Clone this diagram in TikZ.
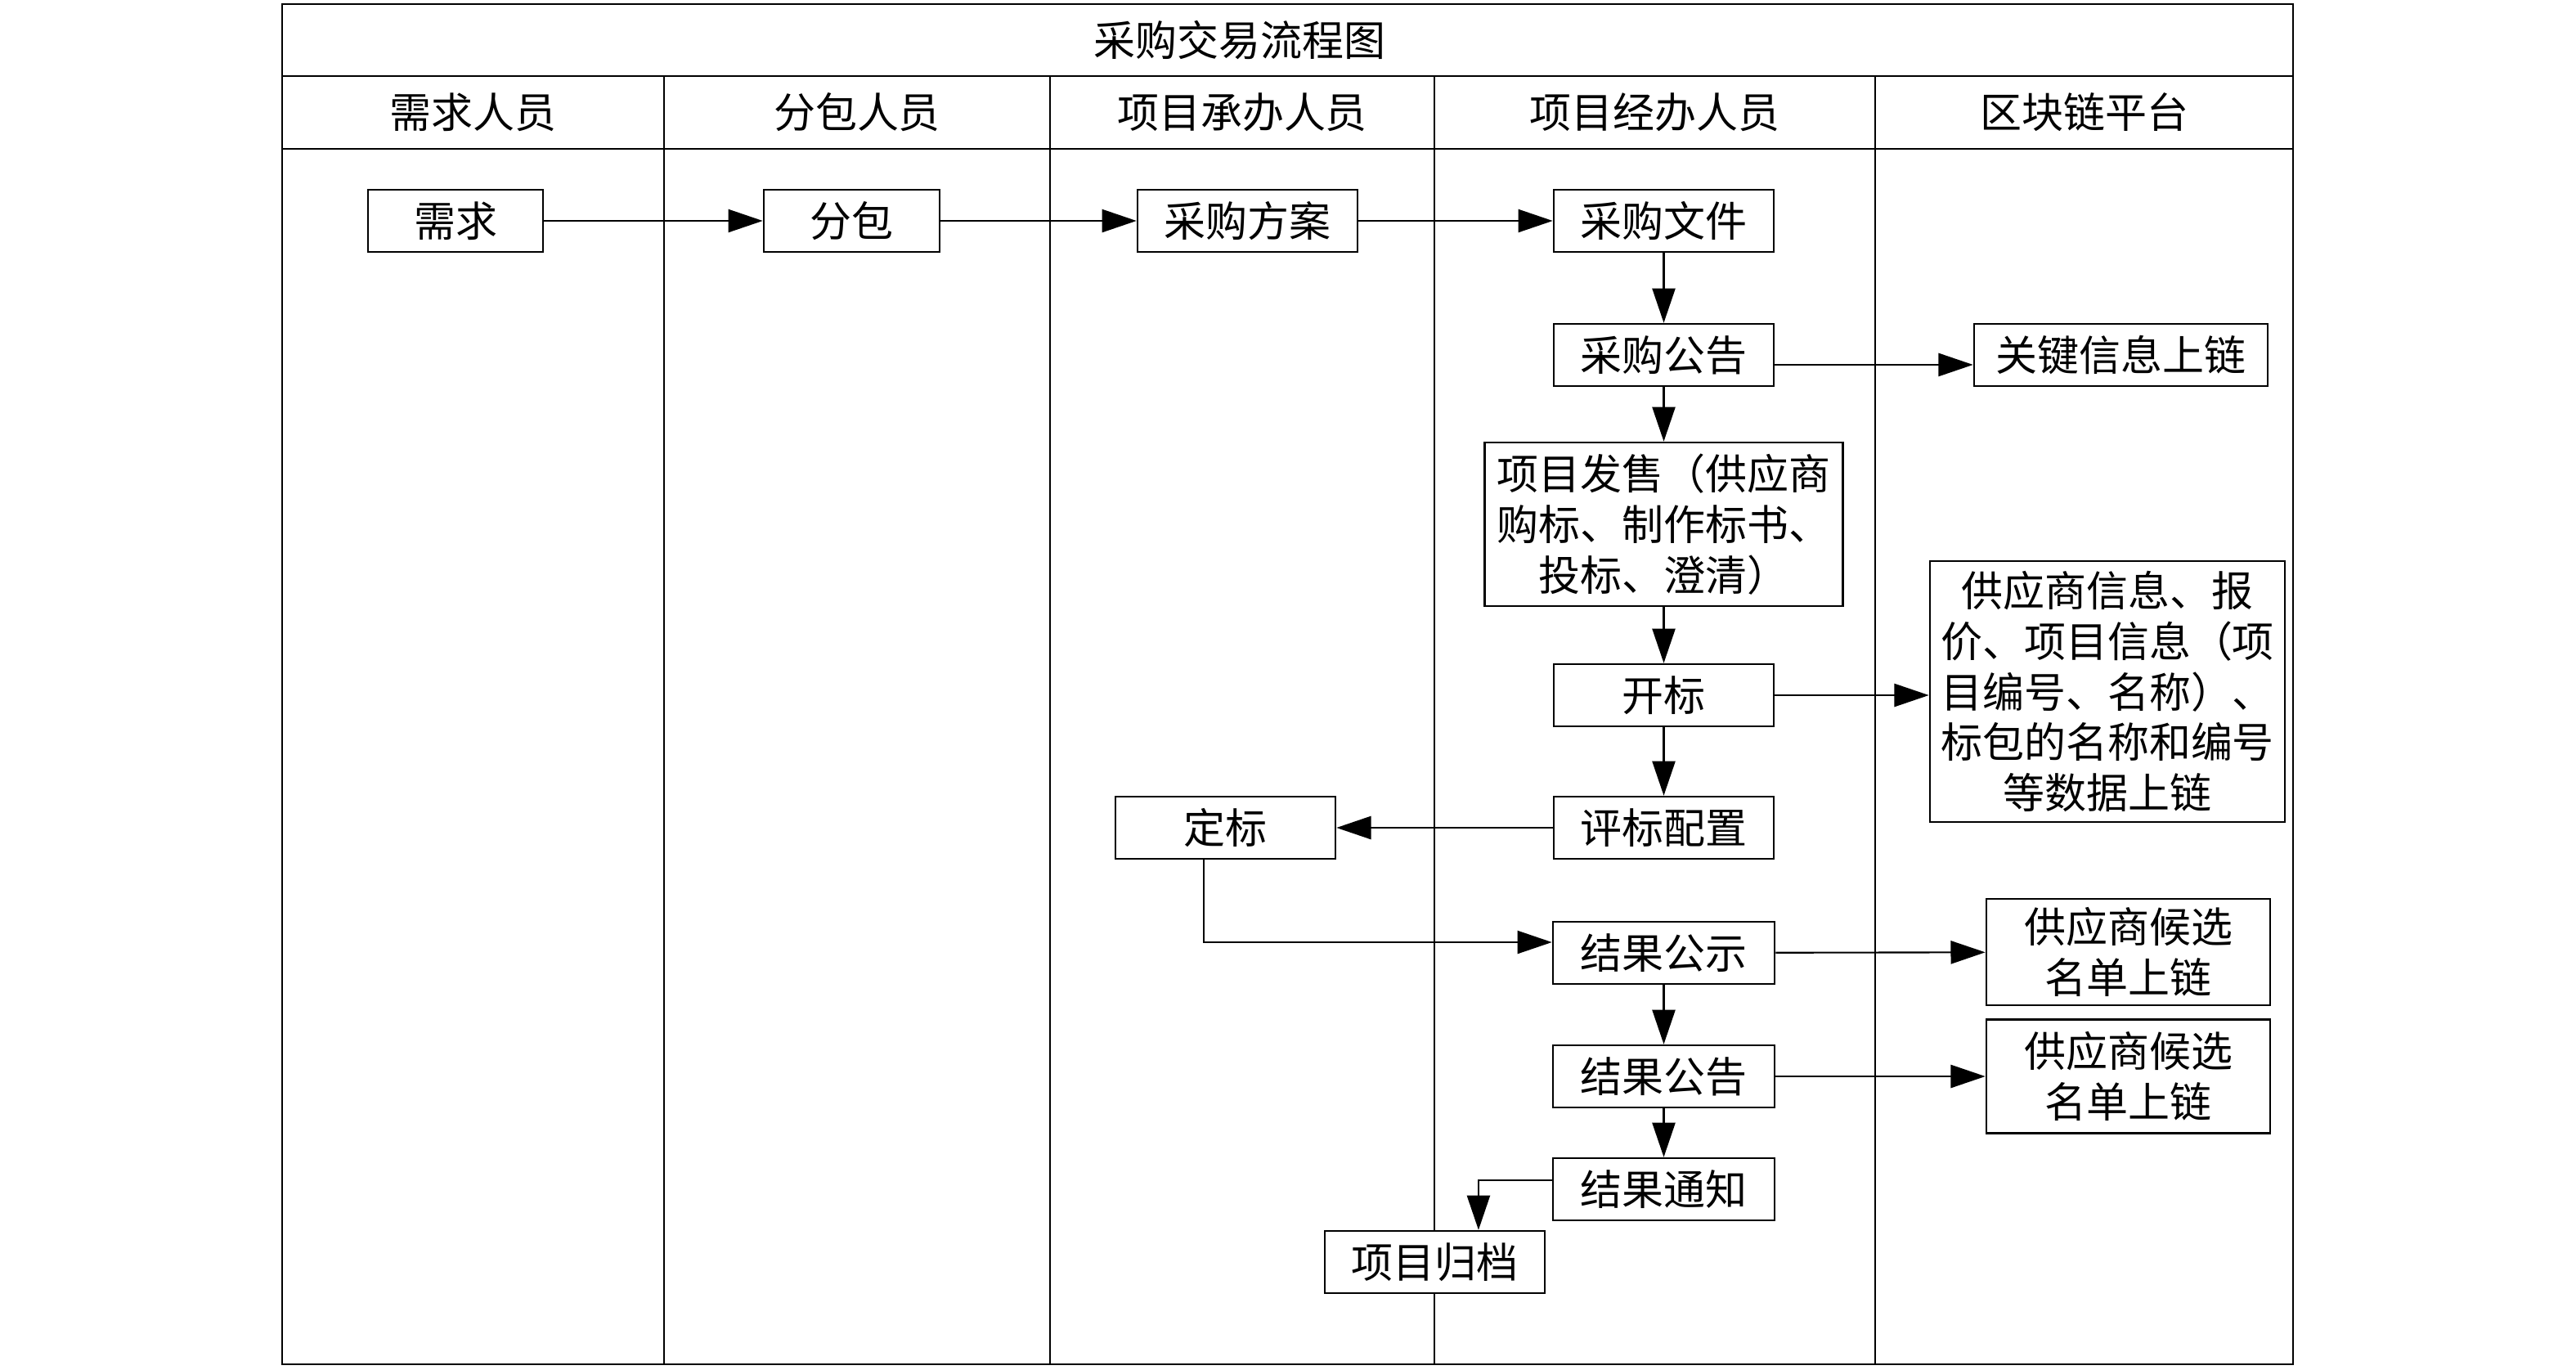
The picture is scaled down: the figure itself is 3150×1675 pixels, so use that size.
\documentclass[tikz,border=0pt]{standalone}
\usepackage{fontspec}
\setmainfont{Noto Sans CJK SC}
\usetikzlibrary{arrows.meta}

\tikzset{
	box/.style={draw, fill=white, line width=0.7pt, inner sep=0pt, align=center, minimum height=0.76cm},
	lane/.style={line width=0.6pt},
	frame/.style={line width=0.8pt},
	>={Triangle[length=12pt,width=8pt]},
}

\begin{document}
\begin{tikzpicture}[x=0.01cm, y=-0.01cm, font=\fontsize{14.5pt}{17.6pt}\selectfont, line width=0.6pt]
	\useasboundingbox (0,0) rectangle (3150,1675);
	
	% frame and lanes
	\draw[frame] (345,5) rectangle (2804,1668);
	\draw[frame] (345,93) -- (2804,93);
	\draw[frame] (345,182) -- (2804,182);
	\foreach \x in {812,1284,1754,2293}
		\draw[lane] (\x,93) -- (\x,1668);
	
	\node (title) at (1516,49){采购交易流程图};
	\node (h1) at (578.5,137.5){需求人员};
	\node (h2) at (1048,137.5){分包人员};
	\node (h3) at (1519,137.5){项目承办人员};
	\node (h4) at (2023.5,137.5){项目经办人员};
	\node (h5) at (2548.5,137.5){区块链平台};
	
	\node [box, minimum width=2.14cm] (xuqiu) at (557,270){需求};
	\node [box, minimum width=2.15cm] (fenbao) at (1041.5,270){分包};
	\node [box, minimum width=2.69cm] (fangan) at (1525.5,270){采购方案};
	\node [box, minimum width=2.69cm] (wenjian) at (2034.5,270){采购文件};
	\node [box, minimum width=2.69cm] (gonggao) at (2034.5,434){采购公告};
	\node [box, minimum width=3.59cm] (guanjian) at (2593.5,434){关键信息上链};
	\node [box, minimum width=4.38cm, minimum height=2.00cm] (fashou) at (2034.5,641){项目发售（供应商\\购标、制作标书、\\投标、澄清）};
	\node [box, minimum width=2.69cm] (kaibiao) at (2034.5,850){开标};
	\node [box, minimum width=4.34cm, minimum height=3.19cm] (shuju) at (2577,845.5){供应商信息、报\\价、项目信息（项\\目编号、名称）、\\标包的名称和编号\\等数据上链};
	\node [box, minimum width=2.69cm] (pingbiao) at (2034.5,1012){评标配置};
	\node [box, minimum width=2.69cm] (dingbiao) at (1498.5,1012){定标};
	\node [box, minimum width=2.71cm] (gongshi) at (2034.5,1165){结果公示};
	\node [box, minimum width=3.47cm, minimum height=1.30cm] (houxuan1) at (2602.5,1164){供应商候选\\名单上链};
	\node [box, minimum width=2.71cm] (jieguo) at (2034.5,1316){结果公告};
	\node [box, minimum width=3.47cm, minimum height=1.39cm] (houxuan2) at (2602.5,1316){供应商候选\\名单上链};
	\node [box, minimum width=2.71cm] (tongzhi) at (2034.5,1454){结果通知};
	\node [box, minimum width=2.69cm] (guidang) at (1754.5,1543){项目归档};
	
	\draw[->] (xuqiu) -- (fenbao);
	\draw[->] (fenbao) -- (fangan);
	\draw[->] (fangan) -- (wenjian);
	\draw[->] (wenjian) -- (gonggao);
	\draw[->] ([yshift=-3.4pt]gonggao.east) -- ([yshift=-3.4pt]guanjian.west);
	\draw[->] (gonggao) -- (fashou);
	\draw[->] (fashou) -- (kaibiao);
	\draw[->] (kaibiao) -- (kaibiao -| shuju.west);
	\draw[->] (kaibiao) -- (pingbiao);
	\draw[->] (pingbiao) -- (dingbiao);
	\draw[->] ([xshift=-7.5pt]dingbiao.south) |- ([yshift=3.7pt]gongshi.west);
	\draw[->] (gongshi) -- (houxuan1);
	\draw[->] (gongshi) -- (jieguo);
	\draw[->] (jieguo) -- (houxuan2);
	\draw[->] (jieguo) -- (tongzhi);
	\draw[->] ([yshift=3.1pt]tongzhi.west) -| ([xshift=15.2pt]guidang.north);
	
\end{tikzpicture}
\end{document}
